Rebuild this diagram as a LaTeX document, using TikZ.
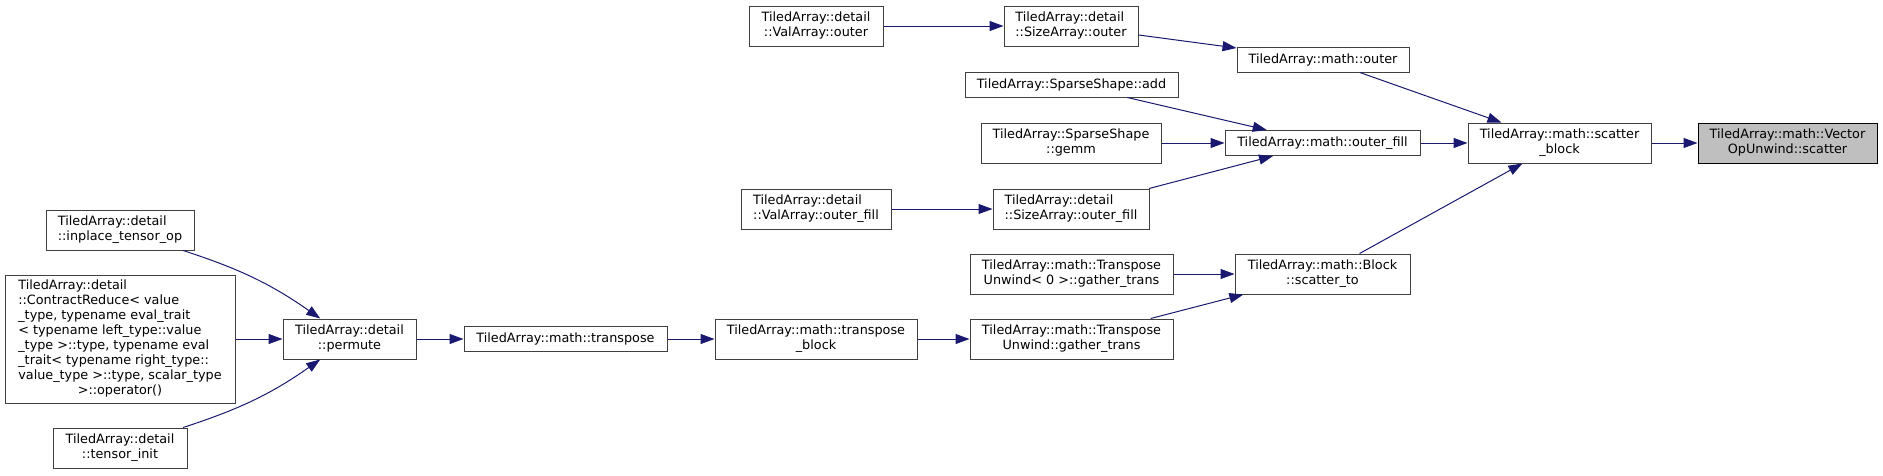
\documentclass[tikz,border=0pt]{standalone}
\usepackage{fontspec}
\setmainfont{DejaVu Sans}
\usetikzlibrary{arrows.meta}
\definecolor{edgeblue}{HTML}{191970}
\definecolor{boxline}{HTML}{404040}
\definecolor{hilite}{HTML}{BFBFBF}
\newcommand{\doxlab}[2]{\begin{tabular}{@{}l@{}}#1\\\multicolumn{1}{@{}c@{}}{#2}\end{tabular}}
\def\px{0.75pt}
\begin{document}
\begin{tikzpicture}[x=\px,y=-\px,font=\fontsize{9.6}{11.25}\selectfont,
	fn/.style={draw=boxline,line width=\px,fill=white,inner sep=0pt,minimum height=25*\px},
	fn2/.style={fn,minimum height=40*\px},
	self/.style={fn2,draw=black,fill=hilite},
	wd/.style={minimum width=#1*\px},
	call/.style={draw=edgeblue,line width=\px,-{Triangle[length=14*\px,width=10*\px,fill=edgeblue]}}]
	
	\useasboundingbox (0,0) rectangle (1883,475);
	
	\node[fn2,wd=148] (inplace) at (120,230) {\doxlab{TiledArray::detail}{::inplace\_tensor\_op}};
	\node[fn,wd=230,minimum height=128*\px] (contract) at (120,339) {\doxlab{TiledArray::detail\\::ContractReduce< value\\\_type, typename eval\_trait\\< typename left\_type::value\\\_type >::type, typename eval\\\_trait< typename right\_type::\\value\_type >::type, scalar\_type}{>::operator()}};
	\node[fn2,wd=134] (tensorinit) at (120,448) {\doxlab{TiledArray::detail}{::tensor\_init}};
	
	\node[fn2,wd=133] (permute) at (349.5,339) {\doxlab{TiledArray::detail}{::permute}};
	\node[fn,wd=203] (transpose) at (565.5,339) {TiledArray::math::transpose};
	
	\node[fn2,wd=134] (valouter) at (816,26) {\doxlab{TiledArray::detail}{::ValArray::outer}};
	\node[fn2,wd=150] (valouterfill) at (816,209) {\doxlab{TiledArray::detail}{::ValArray::outer\_fill}};
	\node[fn2,wd=202] (transblock) at (816,339) {\doxlab{TiledArray::math::transpose}{\_block}};
	
	\node[fn2,wd=134] (sizeouter) at (1071,26) {\doxlab{TiledArray::detail}{::SizeArray::outer}};
	\node[fn,wd=213] (ssadd) at (1071.5,84.5) {TiledArray::SparseShape::add};
	\node[fn2,wd=180] (ssgemm) at (1071,143) {\doxlab{TiledArray::SparseShape}{::gemm}};
	\node[fn2,wd=156] (sizeouterfill) at (1071,209) {\doxlab{TiledArray::detail}{::SizeArray::outer\_fill}};
	\node[fn2,wd=203] (tuzero) at (1071.5,274) {\doxlab{TiledArray::math::Transpose}{Unwind< 0 >::gather\_trans}};
	\node[fn2,wd=203] (tugather) at (1071.5,339) {\doxlab{TiledArray::math::Transpose}{Unwind::gather\_trans}};
	
	\node[fn,wd=172] (mathouter) at (1323,59.5) {TiledArray::math::outer};
	\node[fn,wd=195] (outerfill) at (1322.5,143) {TiledArray::math::outer\_fill};
	\node[fn2,wd=175] (scatterto) at (1322.5,274) {\doxlab{TiledArray::math::Block}{::scatter\_to}};
	
	\node[fn2,wd=183] (scatterblock) at (1559.5,143) {\doxlab{TiledArray::math::scatter}{\_block}};
	\node[self,wd=179] (scatter) at (1787.5,143) {\doxlab{TiledArray::math::Vector}{OpUnwind::scatter}};
	
	\draw[call] (inplace) to[out=-18,in=145] (permute);
	\draw[call] (contract) -- (permute);
	\draw[call] (tensorinit) to[out=18,in=215] (permute);
	\draw[call] (permute) -- (transpose);
	\draw[call] (transpose) -- (transblock);
	\draw[call] (transblock) -- (tugather);
	\draw[call] (valouter) -- (sizeouter);
	\draw[call] (valouterfill) -- (sizeouterfill);
	\draw[call] (sizeouter) -- (mathouter);
	\draw[call] (ssadd) -- (outerfill);
	\draw[call] (ssgemm) -- (outerfill);
	\draw[call] (sizeouterfill) -- (outerfill);
	\draw[call] (tuzero) -- (scatterto);
	\draw[call] (tugather) -- (scatterto);
	\draw[call] (mathouter) -- (scatterblock);
	\draw[call] (outerfill) -- (scatterblock);
	\draw[call] (scatterto) -- (scatterblock);
	\draw[call] (scatterblock) -- (scatter);
\end{tikzpicture}
\end{document}
